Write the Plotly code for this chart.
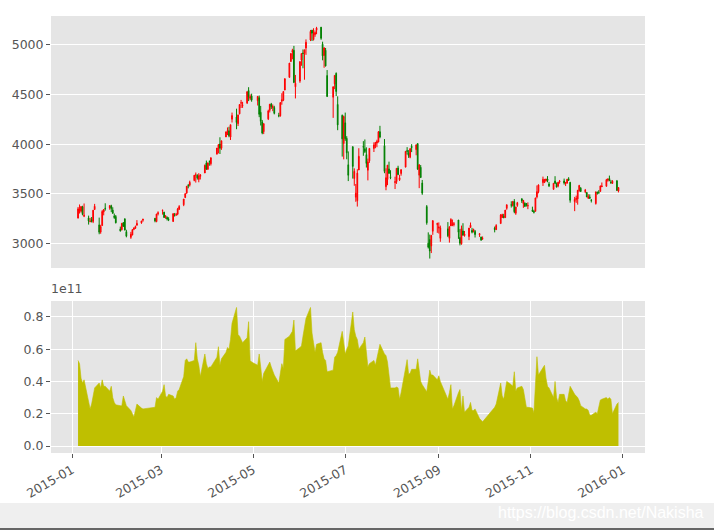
import pandas as pd
import plotly.graph_objects as go

# ---------------- data (SSE Composite, 2015) ----------------
holidays = ["2015-02-18", "2015-02-19", "2015-02-20", "2015-02-23", "2015-02-24",
            "2015-04-06", "2015-05-01", "2015-06-22", "2015-09-03", "2015-09-04",
            "2015-10-01", "2015-10-02", "2015-10-05", "2015-10-06", "2015-10-07"]
dates = [d for d in pd.bdate_range("2015-01-05", "2015-12-29")
         if d.strftime("%Y-%m-%d") not in holidays]

open_ = [
    3258, 3330, 3326, 3371, 3276, 3258, 3223, 3243, 3224, 3343, 3189, 3117, 3182, 3318, 3356, 3358, 3381, 3338, 3279, 3273,
    3148, 3142, 3212, 3251, 3121, 3064, 3088, 3144, 3155, 3186, 3209, 3236, 3256, 3222, 3300,
    3332, 3317, 3264, 3264, 3248, 3224, 3289, 3288, 3297, 3346, 3391, 3464, 3510, 3584, 3588, 3635, 3689, 3687, 3646, 3676, 3710, 3810,
    3748, 3828, 3803, 3899, 3962, 4001, 3959, 4072, 4125, 4134, 4071, 4250, 4272, 4206, 4304, 4412, 4387, 4414, 4539, 4460, 4483,
    4436, 4466, 4320, 4224, 4125, 4254, 4340, 4404, 4366, 4367, 4288, 4285, 4431, 4441, 4543, 4670, 4829, 4924, 4943, 4576,
    4633, 4845, 4916, 4912, 4966, 5046, 5145, 5050, 5101, 5144, 5175, 5004, 4890, 4943, 4689, 4471, 4605, 4711, 4399, 4289, 4006,
    4214, 4058, 3793, 3975, 3655, 3467, 3432, 3740, 3977, 3954, 3895, 3738, 3832, 3957, 3983, 4011, 4022, 4125, 3985, 3573, 3645, 3751, 3672,
    3614, 3624, 3760, 3642, 3705, 3769, 3935, 3913, 3869, 3978, 3945, 4006, 3688, 3767, 3609, 3373, 3005, 3042, 2978, 3125, 3191,
    3157, 3054, 3149, 3054, 3178, 3190, 3193, 3238, 3062, 2999, 3128, 3081, 3072, 3163, 3135, 3127, 3124, 3090, 3067, 3047,
    3155, 3141, 3202, 3263, 3276, 3262, 3355, 3392, 3383, 3424, 3306, 3384, 3450, 3402, 3407, 3404, 3380,
    3337, 3325, 3325, 3470, 3522, 3614, 3615, 3633, 3650, 3600, 3546, 3630, 3603, 3579, 3621, 3631, 3602, 3609, 3653, 3616, 3423,
    3443, 3450, 3533, 3558, 3523, 3515, 3457, 3470, 3438, 3403, 3516, 3517, 3525, 3572, 3577, 3636, 3654, 3620, 3606, 3631, 3528,
]
high = [
    3369, 3394, 3374, 3381, 3404, 3282, 3260, 3268, 3337, 3400, 3262, 3190, 3337, 3348, 3406, 3384, 3391, 3366, 3303, 3288,
    3172, 3205, 3213, 3251, 3140, 3119, 3141, 3164, 3182, 3237, 3229, 3247, 3257, 3300, 3325,
    3342, 3320, 3286, 3274, 3266, 3305, 3309, 3309, 3360, 3387, 3449, 3503, 3578, 3600, 3633, 3688, 3715, 3697, 3708, 3700, 3795, 3835,
    3817, 3835, 3864, 3961, 4000, 4069, 4034, 4129, 4168, 4175, 4195, 4317, 4356, 4294, 4400, 4444, 4425, 4529, 4572, 4500, 4507,
    4481, 4488, 4384, 4243, 4208, 4346, 4402, 4414, 4398, 4385, 4315, 4418, 4511, 4529, 4658, 4814, 4911, 4958, 4987, 4695,
    4829, 4911, 4951, 4948, 5052, 5147, 5147, 5164, 5143, 5178, 5176, 5029, 4969, 4966, 4744, 4577, 4691, 4720, 4480, 4297, 4287,
    4317, 4080, 3927, 3975, 3757, 3600, 3748, 3959, 4030, 4047, 3968, 3855, 3958, 4018, 4018, 4044, 4132, 4184, 4051, 3757, 3790, 3824, 3738,
    3673, 3757, 3783, 3692, 3746, 3928, 3970, 3940, 3956, 4000, 3994, 4006, 3795, 3790, 3640, 3388, 3114, 3092, 3084, 3233, 3209,
    3214, 3182, 3217, 3174, 3256, 3243, 3218, 3238, 3146, 3182, 3206, 3128, 3159, 3213, 3159, 3151, 3138, 3101, 3070, 3073,
    3172, 3196, 3298, 3301, 3300, 3338, 3393, 3426, 3425, 3448, 3370, 3420, 3458, 3440, 3415, 3406, 3415,
    3372, 3341, 3459, 3585, 3596, 3674, 3651, 3652, 3679, 3621, 3607, 3678, 3615, 3617, 3640, 3654, 3617, 3648, 3668, 3621, 3470,
    3483, 3538, 3591, 3568, 3550, 3518, 3497, 3495, 3448, 3521, 3524, 3538, 3584, 3615, 3651, 3652, 3684, 3640, 3638, 3640, 3566,
]
low = [
    3253, 3303, 3312, 3285, 3267, 3192, 3215, 3214, 3207, 3340, 3095, 3100, 3180, 3285, 3332, 3341, 3317, 3300, 3250, 3204,
    3122, 3133, 3171, 3134, 3064, 3049, 3084, 3136, 3149, 3182, 3200, 3221, 3215, 3216, 3284,
    3292, 3260, 3250, 3233, 3227, 3219, 3272, 3280, 3286, 3338, 3377, 3458, 3500, 3556, 3574, 3627, 3614, 3644, 3617, 3645, 3710, 3742,
    3742, 3783, 3785, 3899, 3907, 3901, 3943, 4072, 4091, 4069, 4042, 4217, 4150, 4182, 4300, 4363, 4364, 4403, 4432, 4441, 4426,
    4388, 4271, 4187, 4099, 4101, 4242, 4318, 4353, 4331, 4299, 4270, 4276, 4396, 4432, 4543, 4670, 4829, 4852, 4613, 4459,
    4616, 4787, 4762, 4647, 4897, 5035, 5036, 5041, 5078, 5104, 5048, 4842, 4767, 4780, 4476, 4264, 4552, 4483, 4140, 3875, 3847,
    4033, 3848, 3629, 3654, 3582, 3421, 3373, 3740, 3883, 3910, 3765, 3636, 3812, 3921, 3959, 3969, 4018, 4059, 3708, 3537, 3588, 3705, 3648,
    3549, 3601, 3688, 3630, 3683, 3769, 3895, 3862, 3858, 3920, 3888, 3743, 3558, 3662, 3491, 3191, 2952, 2851, 2906, 3089, 3109,
    3102, 3019, 3066, 3011, 3178, 3176, 3174, 3049, 2983, 2990, 3081, 3071, 3036, 3163, 3104, 3113, 3062, 3068, 3028, 3039,
    3114, 3139, 3202, 3258, 3255, 3259, 3341, 3363, 3373, 3306, 3290, 3370, 3409, 3360, 3368, 3373, 3347,
    3322, 3304, 3325, 3455, 3506, 3580, 3609, 3623, 3617, 3569, 3542, 3603, 3568, 3566, 3603, 3594, 3579, 3603, 3633, 3412, 3327,
    3410, 3392, 3522, 3519, 3507, 3468, 3449, 3452, 3414, 3393, 3493, 3499, 3525, 3570, 3573, 3623, 3627, 3601, 3600, 3533, 3515,
]
close = [
    3350, 3351, 3374, 3294, 3285, 3229, 3224, 3222, 3337, 3376, 3116, 3173, 3324, 3343, 3352, 3383, 3353, 3306, 3262, 3210,
    3128, 3205, 3174, 3137, 3076, 3095, 3142, 3158, 3173, 3204, 3229, 3247, 3229, 3298, 3310,
    3336, 3263, 3280, 3249, 3241, 3302, 3286, 3291, 3349, 3373, 3449, 3503, 3577, 3582, 3617, 3688, 3691, 3661, 3682, 3691, 3787, 3748,
    3810, 3826, 3864, 3961, 3995, 3958, 4034, 4122, 4136, 4084, 4195, 4287, 4217, 4294, 4398, 4415, 4394, 4527, 4476, 4477, 4442,
    4480, 4299, 4229, 4112, 4206, 4334, 4401, 4376, 4378, 4309, 4284, 4418, 4446, 4529, 4658, 4814, 4911, 4942, 4620, 4612,
    4829, 4910, 4910, 4947, 5023, 5132, 5114, 5106, 5122, 5166, 5063, 4887, 4968, 4785, 4478, 4577, 4690, 4528, 4193, 4053, 4277,
    4054, 3913, 3687, 3776, 3727, 3507, 3709, 3878, 3970, 3925, 3806, 3823, 3957, 3992, 4018, 4026, 4124, 4071, 3726, 3663, 3789, 3706, 3664,
    3623, 3757, 3695, 3662, 3744, 3928, 3928, 3886, 3955, 3965, 3994, 3748, 3794, 3664, 3508, 3210, 2965, 2927, 3084, 3232, 3206,
    3167, 3160, 3080, 3170, 3243, 3198, 3200, 3115, 3005, 3152, 3086, 3098, 3157, 3186, 3116, 3143, 3092, 3101, 3038, 3053,
    3143, 3183, 3288, 3293, 3262, 3338, 3391, 3387, 3425, 3321, 3369, 3412, 3430, 3434, 3375, 3387, 3383,
    3325, 3317, 3460, 3523, 3590, 3647, 3640, 3650, 3633, 3581, 3607, 3605, 3568, 3617, 3630, 3610, 3616, 3648, 3636, 3436, 3445,
    3456, 3537, 3585, 3525, 3537, 3470, 3472, 3456, 3435, 3521, 3510, 3516, 3580, 3579, 3643, 3652, 3636, 3613, 3628, 3534, 3564,
]
volume_1e11 = [
    0.53, 0.51, 0.42, 0.39, 0.41, 0.28, 0.23, 0.26, 0.32, 0.36, 0.39, 0.36, 0.41, 0.37, 0.37, 0.34, 0.37, 0.30, 0.27, 0.255,
    0.25, 0.25, 0.31, 0.27, 0.25, 0.22, 0.20, 0.18, 0.22, 0.26, 0.235, 0.23, 0.24, 0.30, 0.29,
    0.34, 0.38, 0.31, 0.30, 0.32, 0.31, 0.29, 0.30, 0.34, 0.35, 0.43, 0.53, 0.54, 0.52, 0.52, 0.53, 0.64, 0.54, 0.50, 0.43, 0.57, 0.51,
    0.48, 0.49, 0.49, 0.55, 0.615, 0.50, 0.54, 0.58, 0.61, 0.60, 0.66, 0.76, 0.858, 0.69, 0.68, 0.66, 0.64, 0.67, 0.77, 0.53, 0.52,
    0.50, 0.57, 0.49, 0.40, 0.45, 0.50, 0.52, 0.49, 0.46, 0.44, 0.39, 0.46, 0.51, 0.48, 0.66, 0.68, 0.70, 0.71, 0.78, 0.59,
    0.61, 0.62, 0.68, 0.74, 0.79, 0.858, 0.70, 0.64, 0.58, 0.63, 0.64, 0.58, 0.54, 0.53, 0.46, 0.47, 0.55, 0.56, 0.58, 0.71, 0.62,
    0.57, 0.60, 0.62, 0.83, 0.72, 0.68, 0.66, 0.60, 0.64, 0.675, 0.58, 0.49, 0.51, 0.53, 0.50, 0.55, 0.60, 0.63, 0.57, 0.56, 0.52, 0.43, 0.36,
    0.36, 0.365, 0.36, 0.29, 0.33, 0.50, 0.535, 0.445, 0.45, 0.475, 0.475, 0.54, 0.45, 0.40, 0.38, 0.336, 0.40, 0.47, 0.44, 0.44, 0.41,
    0.435, 0.40, 0.29, 0.33, 0.38, 0.23, 0.25, 0.33, 0.35, 0.22, 0.31, 0.21, 0.24, 0.27, 0.22, 0.22, 0.23, 0.17, 0.16, 0.15,
    0.24, 0.26, 0.39, 0.31, 0.29, 0.36, 0.40, 0.38, 0.37, 0.46, 0.34, 0.36, 0.37, 0.35, 0.28, 0.24, 0.24,
    0.235, 0.205, 0.42, 0.553, 0.44, 0.48, 0.50, 0.42, 0.37, 0.36, 0.30, 0.40, 0.30, 0.27, 0.32, 0.32, 0.28, 0.27, 0.32, 0.37, 0.32,
    0.31, 0.30, 0.28, 0.25, 0.23, 0.23, 0.22, 0.19, 0.19, 0.21, 0.20, 0.25, 0.285, 0.29, 0.30, 0.29, 0.30, 0.29, 0.20, 0.26, 0.27,
]

x_ticks = ["2015-01-01", "2015-03-01", "2015-05-01", "2015-07-01", "2015-09-01", "2015-11-01", "2016-01-01"]
x_tick_labels = ["2015-01", "2015-03", "2015-05", "2015-07", "2015-09", "2015-11", "2016-01"]
price_ticks = [3000, 3500, 4000, 4500, 5000]
vol_ticks = [0.0, 0.2, 0.4, 0.6, 0.8]

# ---------------- figure ----------------
W, H = 714, 530
TXT = "#555555"
FONT = "DejaVu Sans"
x_range = ["2014-12-18 02:00", "2016-01-15 14:00"]

fig = go.Figure()
fig.add_trace(go.Candlestick(
    x=dates, open=open_, high=high, low=low, close=close,
    increasing=dict(line=dict(color="#ff0000", width=1), fillcolor="#ff0000"),
    decreasing=dict(line=dict(color="#008000", width=1), fillcolor="#008000"),
    whiskerwidth=0, xaxis="x", yaxis="y", showlegend=False, hoverinfo="skip",
))
fig.add_trace(go.Scatter(
    x=dates, y=volume_1e11, mode="lines", fill="tozeroy",
    line=dict(color="#bfbf00", width=0.6), fillcolor="#bfbf00",
    xaxis="x2", yaxis="y2", showlegend=False, hoverinfo="skip",
))

xd = [51 / W, 645 / W]
top_dom = [(H - 268) / H, (H - 16) / H]
bot_dom = [(H - 453) / H, (H - 301) / H]

axis_common = dict(tickfont=dict(family=FONT, size=12.5, color=TXT), ticks="outside",
                   ticklen=4, tickcolor=TXT, gridcolor="white", gridwidth=1,
                   zeroline=False, showline=False, automargin=False)

fig.update_layout(
    width=W, height=H, margin=dict(l=0, r=0, t=0, b=0, autoexpand=False),
    paper_bgcolor="white", plot_bgcolor="#e5e5e5",
    font=dict(family=FONT, color=TXT),
    xaxis=dict(domain=xd, anchor="y", type="date", range=x_range, showgrid=False,
               showticklabels=False, ticks="", zeroline=False, automargin=False,
               rangeslider=dict(visible=False)),
    yaxis=dict(domain=top_dom, anchor="x", range=[2756, 5287], tickvals=price_ticks,
               ticktext=[str(v) for v in price_ticks], **axis_common),
    xaxis2=dict(domain=xd, anchor="y2", type="date", range=x_range, tickvals=x_ticks,
                ticktext=x_tick_labels, tickangle=-30, **axis_common),
    yaxis2=dict(domain=bot_dom, anchor="x2", range=[-0.043, 0.898], tickvals=vol_ticks,
                ticktext=[f"{v:.1f}" for v in vol_ticks], **axis_common),
    annotations=[
        dict(text="1e11", xref="paper", yref="paper", x=49 / W, y=(H - 298) / H,
             xanchor="left", yanchor="bottom", showarrow=False,
             font=dict(family=FONT, size=12.5, color=TXT)),
        dict(text="https://blog.csdn.net/Nakisha", xref="paper", yref="paper",
             x=706 / W, y=(H - 512) / H, xanchor="right", yanchor="middle", showarrow=False,
             font=dict(family="Liberation Sans", size=16, color="#ffffff")),
    ],
    shapes=[
        dict(type="rect", xref="paper", yref="paper", x0=0, x1=1, y0=0, y1=(H - 503) / H,
             fillcolor="#efefef", line=dict(width=0), layer="below"),
        dict(type="rect", xref="paper", yref="paper", x0=0, x1=1, y0=0, y1=2 / H,
             fillcolor="#666666", line=dict(width=0), layer="below"),
    ],
)

fig.write_html("out.html")
